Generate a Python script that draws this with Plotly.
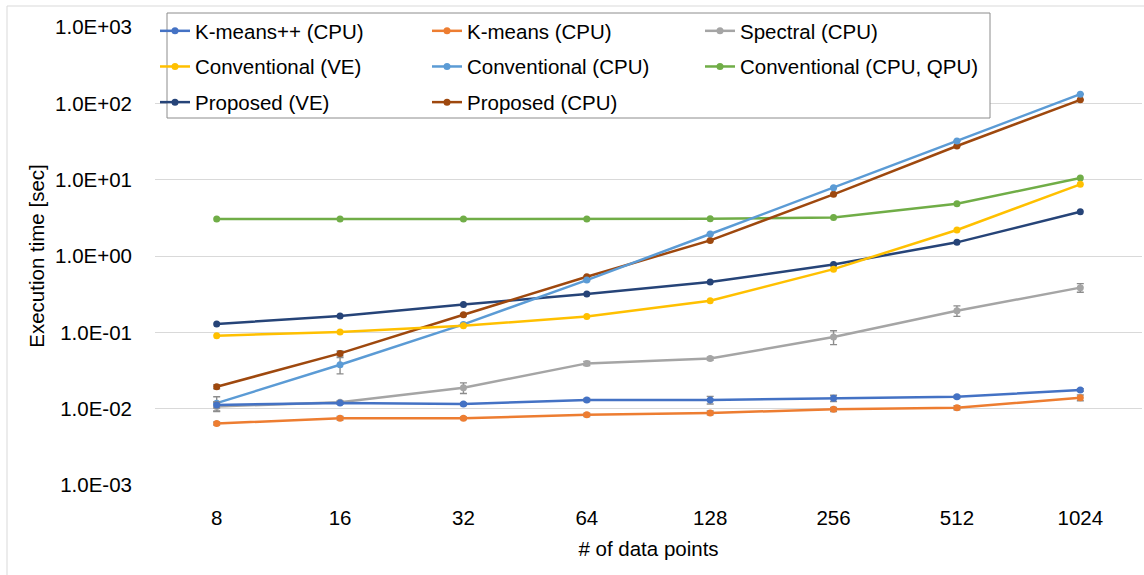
import plotly.graph_objects as go

# Problem sizes (x categories)
sizes = ["8", "16", "32", "64", "128", "256", "512", "1024"]

# Execution time [sec] per method
kmeanspp_cpu = [0.0112, 0.0119, 0.0115, 0.0130, 0.0130, 0.0137, 0.0143, 0.0176]
kmeans_cpu = [0.0064, 0.00748, 0.00748, 0.0083, 0.0088, 0.0098, 0.0103, 0.0139]
spectral_cpu = [0.0107, 0.0121, 0.0188, 0.0392, 0.0453, 0.087, 0.192, 0.385]
conv_ve = [0.0903, 0.101, 0.122, 0.161, 0.259, 0.673, 2.19, 8.69]
conv_cpu = [0.0118, 0.0376, 0.127, 0.484, 1.94, 7.85, 32.2, 132]
conv_cpu_qpu = [3.05, 3.05, 3.05, 3.05, 3.07, 3.2, 4.84, 10.5]
prop_ve = [0.1285, 0.164, 0.232, 0.318, 0.455, 0.774, 1.51, 3.8]
prop_cpu = [0.0194, 0.053, 0.170, 0.535, 1.6, 6.43, 27.6, 111]

# Standard deviations (error bars)
kmeanspp_err = [0.001, 0.0005, 0.0005, 0.0006, 0.0015, 0.0013, 0.0006, 0.0007]
kmeans_err = [0.0003, 0.0004, 0.0003, 0.0004, 0.0005, 0.0006, 0.0006, 0.0012]
spectral_err = [0.0015, 0.0005, 0.003, 0.0025, 0.002, 0.018, 0.03, 0.05]
conv_cpu_err = [0.0025, 0.009, 0.004, 0.01, 0.03, 0.1, 0.3, 1.0]
prop_cpu_err = [0.0012, 0.004, 0.005, 0.01, 0.03, 0.1, 0.3, 1.0]

# Y-axis ticks
y_tickvals = [1e-3, 1e-2, 1e-1, 1e0, 1e1, 1e2, 1e3]
y_ticktext = ["1.0E-03", "1.0E-02", "1.0E-01", "1.0E+00", "1.0E+01", "1.0E+02", "1.0E+03"]

FONT = "Liberation Sans, Arial, sans-serif"
FS = 20.5
ERR_COLOR = "#8C8C8C"

series = [
    # name, values, errors, colour, legend
    ("K-means++ (CPU)", kmeanspp_cpu, kmeanspp_err, "#4472C4", "legend"),
    ("Conventional (VE)", conv_ve, None, "#FFC000", "legend"),
    ("Proposed (VE)", prop_ve, None, "#264478", "legend"),
    ("K-means (CPU)", kmeans_cpu, kmeans_err, "#ED7D31", "legend2"),
    ("Conventional (CPU)", conv_cpu, conv_cpu_err, "#5B9BD5", "legend2"),
    ("Proposed (CPU)", prop_cpu, prop_cpu_err, "#9E480E", "legend2"),
    ("Spectral (CPU)", spectral_cpu, spectral_err, "#A5A5A5", "legend3"),
    ("Conventional (CPU, QPU)", conv_cpu_qpu, None, "#70AD47", "legend3"),
]

# Draw order so the earlier series sit on top
draw_order = [7, 2, 5, 4, 1, 6, 3, 0]

fig = go.Figure()
for idx in draw_order:
    name, vals, errs, color, leg = series[idx]
    err = None
    if errs is not None:
        err = dict(type="data", array=errs, arrayminus=errs, visible=True,
                   color=ERR_COLOR, thickness=1.4, width=3.5)
    fig.add_trace(go.Scatter(
        x=sizes, y=vals, name=name, mode="lines+markers",
        line=dict(color=color, width=2.5),
        marker=dict(color=color, size=7, symbol="circle"),
        error_y=err, legend=leg, legendgroup=name,
        legendrank=idx,
    ))

W, H = 1144, 575
ML, MR, MT, MB = 155, 2, 27, 90
PW = W - ML - MR
PH = H - MT - MB


def px_x(x):
    return (x - ML) / PW


def px_y(y):
    return (H - MB - y) / PH


leg_common = dict(
    font=dict(family=FONT, size=FS, color="#000000"),
    bgcolor="rgba(0,0,0,0)", borderwidth=0,
    xanchor="left", yanchor="top", orientation="v",
    tracegroupgap=6, itemwidth=30, traceorder="grouped",
    itemclick=False, itemdoubleclick=False,
)

fig.update_layout(
    width=W, height=H,
    margin=dict(l=ML, r=MR, t=MT, b=MB),
    paper_bgcolor="white", plot_bgcolor="white",
    font=dict(family=FONT, size=FS, color="#000000"),
    showlegend=True,
    legend=dict(x=px_x(155), y=px_y(11), **leg_common),
    legend2=dict(x=px_x(427), y=px_y(11), **leg_common),
    legend3=dict(x=px_x(700), y=px_y(11), **leg_common),
    xaxis=dict(
        type="category", categoryorder="array", categoryarray=sizes,
        range=[-0.5, 7.5], showgrid=False, zeroline=False, showline=False,
        ticks="", ticklabelstandoff=18,
        tickfont=dict(family=FONT, size=FS, color="#000000"),
        title=dict(text="# of data points", standoff=14,
                   font=dict(family=FONT, size=FS, color="#000000")),
    ),
    yaxis=dict(
        type="log", range=[-3, 3], tickvals=y_tickvals, ticktext=y_ticktext,
        showgrid=True, gridcolor="#D9D9D9", gridwidth=1.3,
        zeroline=False, showline=False, ticks="", ticklabelstandoff=22,
        tickfont=dict(family=FONT, size=FS, color="#000000"),
        title=dict(text="Execution time [sec]", standoff=4,
                   font=dict(family=FONT, size=FS, color="#000000")),
    ),
    shapes=[
        # outer chart frame
        dict(type="rect", xref="paper", yref="paper",
             x0=px_x(7), x1=px_x(1200), y0=px_y(640), y1=px_y(6),
             line=dict(color="#D9D9D9", width=1), fillcolor="rgba(0,0,0,0)",
             layer="below"),
        # legend box
        dict(type="rect", xref="paper", yref="paper",
             x0=px_x(167), x1=px_x(990), y0=px_y(118), y1=px_y(13),
             line=dict(color="#8C8C8C", width=1), fillcolor="white",
             layer="above"),
    ],
)

fig.write_html("out.html")
